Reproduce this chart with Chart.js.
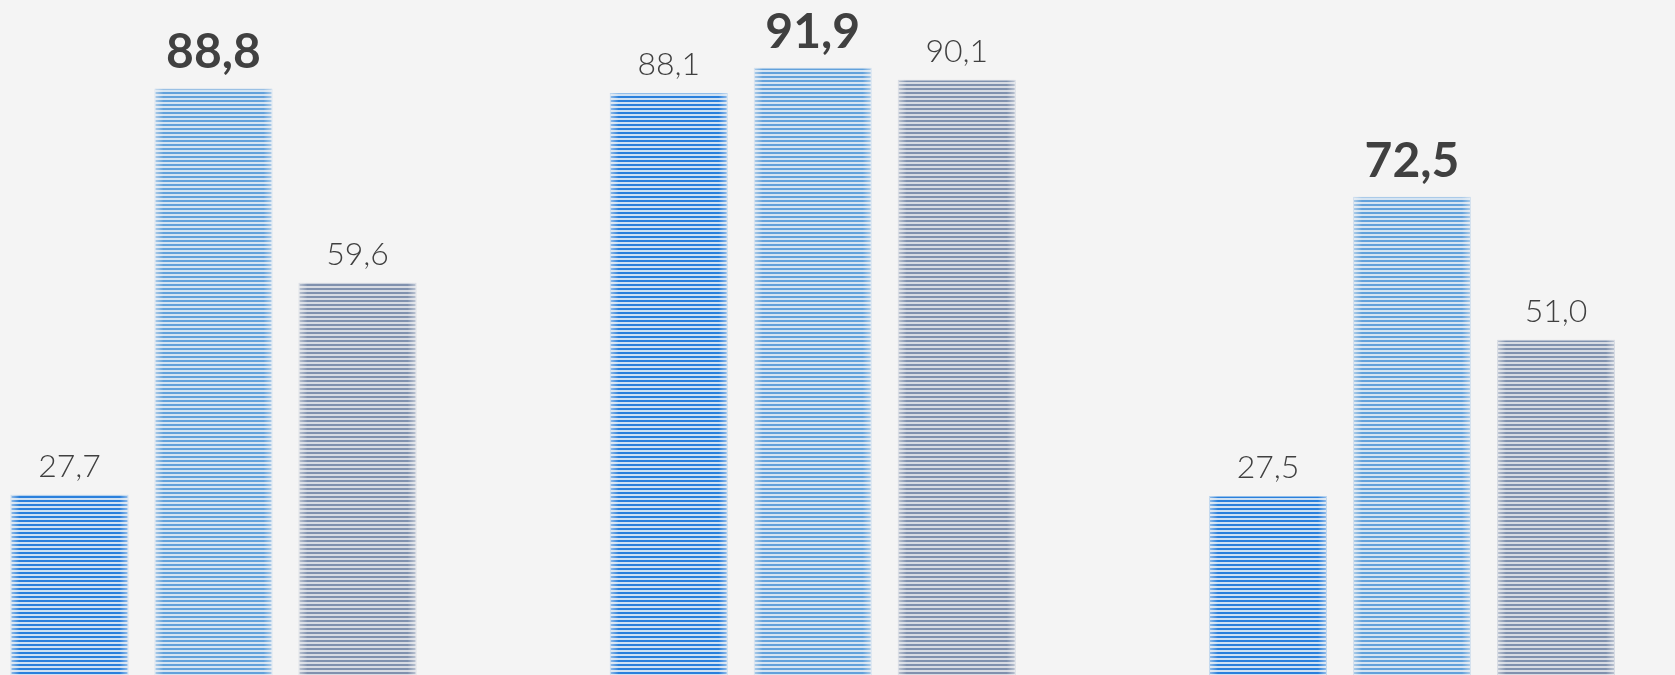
<!DOCTYPE html>
<html>
<head>
<meta charset="utf-8">
<script src="https://cdn.jsdelivr.net/npm/chart.js@4"></script>
<style>
  html, body { margin: 0; padding: 0; background: #f4f4f4; overflow: hidden; }
  #wrap { width: 1675px; height: 679px; }
</style>
</head>
<body>
<div id="wrap"><canvas id="barChart" width="1675" height="679"></canvas></div>
<script>
// values (decimal comma in the labels)
const categories = ['Grupo 1', 'Grupo 2', 'Grupo 3'];
const seriesNames = ['Serie 1', 'Serie 2', 'Serie 3'];
const series1 = [27.7, 88.1, 27.5];
const series2 = [88.8, 91.9, 72.5];
const series3 = [59.6, 90.1, 51.0];

const ctx = document.getElementById('barChart').getContext('2d');

// horizontal stripes, 4px period
function stripes(dark, light) {
    const c = document.createElement('canvas');
    c.width = 4;
    c.height = 4;
    const g = c.getContext('2d');
    g.fillStyle = light;
    g.fillRect(0, 0, 4, 4);
    g.fillStyle = dark;
    g.fillRect(0, 0, 4, 2);
    return ctx.createPattern(c, 'repeat');
}

const fmt = v => v.toFixed(1).replace('.', ',');

// soft light edges on each bar + value labels
const barDecor = {
    id: 'barDecor',
    afterDatasetsDraw(chart) {
        const c = chart.ctx;
        const all = [series1, series2, series3];
        chart.data.datasets.forEach((ds, d) => {
            const meta = chart.getDatasetMeta(d);
            meta.data.forEach((bar, i) => {
                const p = bar.getProps(['x', 'y', 'base', 'width'], true);
                const left = p.x - p.width / 2;
                const right = p.x + p.width / 2;
                const h = p.base - p.y;
                const fade = 9;
                let gl = c.createLinearGradient(left, 0, left + fade, 0);
                gl.addColorStop(0, 'rgba(244,244,244,0.55)');
                gl.addColorStop(1, 'rgba(244,244,244,0)');
                c.fillStyle = gl;
                c.fillRect(left, p.y, fade, h);
                let gr = c.createLinearGradient(right - fade, 0, right, 0);
                gr.addColorStop(0, 'rgba(244,244,244,0)');
                gr.addColorStop(1, 'rgba(244,244,244,0.55)');
                c.fillStyle = gr;
                c.fillRect(right - fade, p.y, fade, h);

                const v = ds.data[i];
                const isMax = v === Math.max(...all.map(s => s[i]));
                c.save();
                c.fillStyle = '#404040';
                c.textAlign = 'center';
                c.textBaseline = 'alphabetic';
                c.font = isMax ? '700 48px Lato' : '300 32px Lato';
                c.fillText(fmt(v), p.x, p.y - (isMax ? 20 : 18));
                c.restore();
            });
        });
    }
};

const barChart = new Chart(ctx, {
    type: 'bar',
    data: {
        labels: categories,
        datasets: [{
            label: seriesNames[0],
            data: series1,
            backgroundColor: stripes('#2a80dc', '#cfe1f3'),
            borderColor: 'rgba(120,175,230,0.8)',
            borderWidth: 1,
        }, {
            label: seriesNames[1],
            data: series2,
            backgroundColor: stripes('#62a1db', '#d5e4f2'),
            borderColor: 'rgba(160,195,230,0.8)',
            borderWidth: 1,
        }, {
            label: seriesNames[2],
            data: series3,
            backgroundColor: stripes('#8091ae', '#d7dbe3'),
            borderColor: 'rgba(170,180,200,0.8)',
            borderWidth: 1,
        }]
    },
    options: {
        responsive: false,
        animation: false,
        clip: false,
        categoryPercentage: 0.721,
        barPercentage: 0.819,
        layout: { padding: { left: 213.5, right: 263, top: 0, bottom: 0 } },
        plugins: {
            legend: { display: false },
            tooltip: { enabled: false }
        },
        scales: {
            x: { display: false, offset: false, grid: { display: false } },
            y: { display: false, min: 0, max: 102.1, grid: { display: false } }
        }
    },
    plugins: [barDecor]
});
</script>
</body>
</html>
